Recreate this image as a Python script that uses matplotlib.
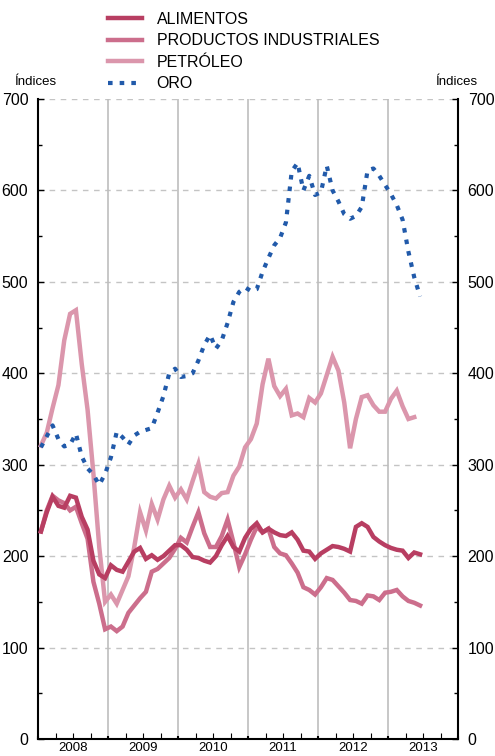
import numpy as np
import matplotlib
matplotlib.use("Agg")
import matplotlib.pyplot as plt
from matplotlib.ticker import FixedLocator, FixedFormatter

plt.rcParams['font.family'] = ['Liberation Sans', 'DejaVu Sans']

# Monthly indices, January 2008 onwards
alimentos = [227, 248, 265, 255, 253, 266, 264, 243, 229, 195, 180, 176,
             190, 185, 183, 194, 205, 209, 197, 201, 196, 200, 206, 212,
             212, 207, 199, 198, 195, 193, 200, 212, 222, 210, 205, 220,
             230, 236, 226, 230, 226, 223, 222, 226, 218, 206, 205, 197,
             203, 207, 211, 210, 208, 205, 232, 236, 232, 221, 216, 212,
             209, 207, 206, 198, 204, 202]
productos = [227, 250, 266, 261, 258, 250, 254, 236, 219, 172, 148, 120,
             123, 118, 123, 138, 146, 154, 161, 183, 186, 192, 198, 208,
             220, 215, 232, 248, 225, 210, 210, 222, 240, 215, 188, 202,
             218, 232, 226, 230, 210, 203, 201, 192, 182, 166, 163, 158,
             166, 176, 174, 167, 160, 152, 151, 148, 157, 156, 152, 160,
             161, 163, 156, 151, 149, 146]
petroleo = [321, 335, 362, 387, 436, 465, 469, 410, 360, 290, 210, 150,
            158, 148, 163, 178, 210, 248, 228, 257, 240, 262, 277, 264,
            273, 262, 282, 301, 270, 265, 263, 269, 270, 288, 298, 319,
            328, 345, 388, 416, 386, 375, 383, 354, 356, 352, 373, 368,
            378, 398, 418, 403, 368, 318, 350, 374, 376, 365, 358, 358,
            372, 381, 364, 350, 352]
oro = [319, 331, 343, 328, 320, 322, 334, 309, 296, 289, 278, 290,
       308, 336, 330, 322, 332, 336, 338, 340, 357, 375, 400, 405,
       396, 397, 400, 414, 431, 442, 427, 436, 455, 478, 489, 494,
       490, 492, 511, 526, 540, 548, 565, 621, 630, 600, 616, 595,
       598, 627, 600, 588, 574, 569, 572, 582, 622, 624, 616, 606,
       596, 584, 568, 533, 505, 484]
years = ['2008', '2009', '2010', '2011', '2012', '2013']

c_alim = '#b83e62'
c_prod = '#cc6e8c'
c_petr = '#db96ac'
c_oro = '#215aaa'


def month_x(values):
    # centre of each month, in decimal years
    return 2008 + (np.arange(len(values)) + 0.5) / 12


fig = plt.figure(figsize=(4.95, 7.56), dpi=100)
ax = fig.add_axes([38 / 495, 1 - 739 / 756, 420 / 495, 640 / 756])

lw = 3.2
ax.plot(month_x(petroleo), petroleo, color=c_petr, lw=lw, label='PETRÓLEO',
        solid_joinstyle='miter', zorder=3)
ax.plot(month_x(productos), productos, color=c_prod, lw=lw, label='PRODUCTOS INDUSTRIALES',
        solid_joinstyle='miter', zorder=4)
ax.plot(month_x(alimentos), alimentos, color=c_alim, lw=lw, label='ALIMENTOS',
        solid_joinstyle='miter', zorder=5)
ax.plot(month_x(oro), oro, color=c_oro, lw=3.0, dashes=(1.1, 1.7), label='ORO',
        zorder=6)

ax.set_xlim(2008, 2014)
ax.set_ylim(0, 700)

# y axis on both sides
ax.set_yticks(range(0, 701, 100))
ax.set_yticks(range(50, 700, 100), minor=True)
ax.tick_params(axis='y', which='both', direction='in', left=True, right=True,
               labelleft=True, labelright=True, labelsize=11.5, pad=7)
ax.tick_params(axis='y', which='major', length=4, width=1)
ax.tick_params(axis='y', which='minor', length=3, width=1)

# x axis: year boundaries (grid) and quarters (minor ticks), labels centred on the year
ax.set_xticks(range(2008, 2015))
ax.set_xticklabels([])
quarters = [2008 + q / 4 for q in range(1, 24) if q % 4 != 0]
quarter_labels = []
for q in range(1, 24):
    if q % 4 == 0:
        continue
    quarter_labels.append(years[q // 4] if q % 4 == 2 else '')
ax.xaxis.set_minor_locator(FixedLocator(quarters))
ax.xaxis.set_minor_formatter(FixedFormatter(quarter_labels))
ax.tick_params(axis='x', which='major', direction='in', length=2, width=1.5, top=False)
ax.tick_params(axis='x', which='minor', direction='in', length=4, width=0.8,
               labelsize=9.5, pad=2.5, top=False)

ax.grid(axis='x', which='major', color='#bdbdbd', lw=1.2, linestyle='-', zorder=1)
for v in range(100, 701, 100):
    ax.axhline(v, color='#c4c4c4', lw=1.0, dashes=(4, 4), zorder=1)

for side in ['left', 'right', 'bottom']:
    ax.spines[side].set_linewidth(1.5)
ax.spines['top'].set_visible(False)

fig.text(14 / 495, 1 - 82 / 756, 'Índices', fontsize=9.5, ha='left', va='center')
fig.text(477 / 495, 1 - 82 / 756, 'Índices', fontsize=9.5, ha='right', va='center')

handles, labels = ax.get_legend_handles_labels()
order = [2, 1, 0, 3]
fig.legend([handles[i] for i in order], [labels[i] for i in order],
           loc='upper left', bbox_to_anchor=(108 / 495, 1 - 12 / 756),
           frameon=False, fontsize=11.5, handlelength=2.1, handletextpad=0.95,
           labelspacing=0.4, borderpad=0, borderaxespad=0)

fig.savefig('out.png', dpi=100)
